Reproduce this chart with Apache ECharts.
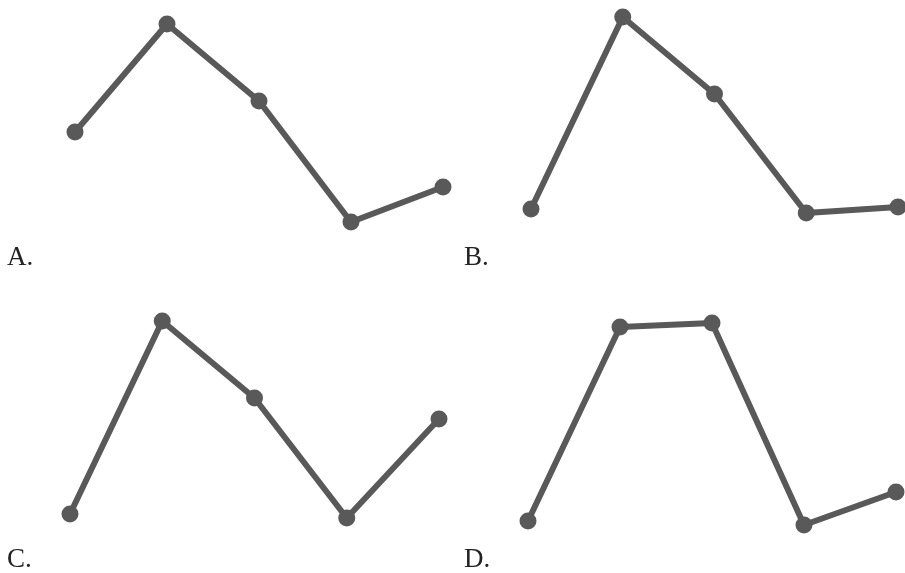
<!DOCTYPE html>
<html>
<head>
<meta charset="utf-8">
<script src="https://cdn.jsdelivr.net/npm/echarts@6/dist/echarts.min.js"></script>
<style>
  html, body { margin: 0; padding: 0; background: #fff; }
  #chart { width: 905px; height: 573px; }
</style>
</head>
<body>
<div id="chart"></div>
<script>
// five points per option (height above each panel's baseline)
const steps = ['1', '2', '3', '4', '5']
const optionA = [118, 226, 149, 28, 63]
const optionB = [41, 233, 156, 37, 43]
const optionC = [26, 219, 142, 22, 121]
const optionD = [19, 213, 217, 15, 48]
const labels = ['A.', 'B.', 'C.', 'D.']

const lineColor = '#595959'

const panels = [
  { data: optionA, grid: { left: 75, top: 0, width: 368, height: 250 }, label: { left: 7, top: 244 } },
  { data: optionB, grid: { left: 531, top: 0, width: 367, height: 250 }, label: { left: 464, top: 244 } },
  { data: optionC, grid: { left: 70, top: 290, width: 369, height: 250 }, label: { left: 7, top: 546 } },
  { data: optionD, grid: { left: 528, top: 290, width: 368, height: 250 }, label: { left: 464, top: 546 } },
]

const chart = echarts.init(document.getElementById('chart'))

chart.setOption({
  animation: false,
  title: panels.map((p, i) => ({
    text: labels[i],
    left: p.label.left,
    top: p.label.top,
    padding: 0,
    textStyle: { fontFamily: 'Liberation Serif', fontSize: 27, fontWeight: 'normal', color: '#222' },
  })),
  grid: panels.map(p => p.grid),
  xAxis: panels.map((p, i) => ({
    type: 'category',
    gridIndex: i,
    data: steps,
    boundaryGap: false,
    show: false,
  })),
  yAxis: panels.map((p, i) => ({
    type: 'value',
    gridIndex: i,
    min: 0,
    max: 250,
    show: false,
  })),
  series: panels.map((p, i) => ({
    type: 'line',
    xAxisIndex: i,
    yAxisIndex: i,
    data: p.data,
    symbol: 'circle',
    symbolSize: 17,
    itemStyle: { color: lineColor },
    lineStyle: { color: lineColor, width: 6 },
  })),
})
</script>
</body>
</html>
